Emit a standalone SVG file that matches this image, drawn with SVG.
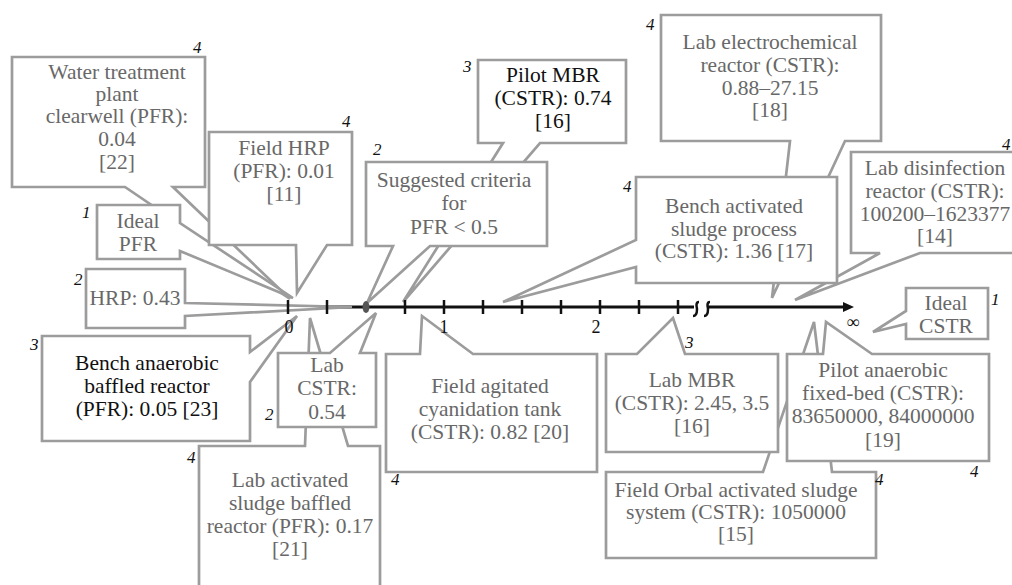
<svg xmlns="http://www.w3.org/2000/svg" width="1012" height="585" viewBox="0 0 1012 585">
<style>
.co{fill:#fff;stroke:#9c9c9c;stroke-width:2.7}
.t{font-family:'Liberation Serif','DejaVu Serif',serif;font-size:21.5px;fill:#686868;text-anchor:middle}
.tb{fill:#111}
.n{font-family:'Liberation Serif','DejaVu Serif',serif;font-style:italic;font-size:17px;fill:#111}
.al{font-family:'Liberation Serif','DejaVu Serif',serif;font-size:18px;fill:#111;text-anchor:middle}
.ax{stroke:#111;stroke-width:3;fill:none}
.tk{stroke:#111;stroke-width:2.5}
</style>
<rect width="1012" height="585" fill="#fff"/>
<g id="axis-line">
<line class="ax" x1="288" y1="307" x2="694" y2="307"/>
<line class="ax" x1="708" y1="307" x2="846" y2="307"/>
</g>
<g id="connectors"></g>
<g id="n-water"><path class="co" d="M12,57 H205 V187 H173 L290,299 L125,187 H12 Z"/>
<text class="t" font-size="20.5"><tspan x="117" y="79">Water treatment</tspan><tspan x="117" y="101">plant</tspan><tspan x="117" y="123">clearwell (PFR):</tspan><tspan x="117" y="146">0.04</tspan><tspan x="117" y="169">[22]</tspan></text>
<text class="n" x="193" y="53">4</text></g>
<g id="n-idealpfr"><path class="co" d="M97,205 H180 V223 L293,298 L180,251 V259 H97 Z"/>
<text class="t"><tspan x="138" y="228">Ideal</tspan><tspan x="138" y="251">PFR</tspan></text>
<text class="n" x="82" y="218">1</text></g>
<g id="n-fieldhrp"><path class="co" d="M209,132 H352 V245 H327 L297,293 L296,245 H209 Z"/>
<text class="t"><tspan x="284" y="155">Field HRP</tspan><tspan x="284" y="178">(PFR): 0.01</tspan><tspan x="284" y="201">[11]</tspan></text>
<text class="n" x="342" y="127">4</text></g>
<g id="n-hrp"><path class="co" d="M86,269 H185 V303 L352,307 L185,316 V328 H86 Z"/>
<text class="t" x="135" y="305">HRP: 0.43</text>
<text class="n" x="74" y="285">2</text></g>
<g id="n-benchanaer"><path class="co" d="M42,336 H250 V352 L297,316 L250,382 V441 H42 Z"/>
<text class="t tb"><tspan x="147" y="370">Bench anaerobic</tspan><tspan x="147" y="393">baffled reactor</tspan><tspan x="147" y="416">(PFR): 0.05 [23]</tspan></text>
<text class="n" x="30" y="350">3</text></g>
<g id="n-labactbaffled"><path class="co" d="M199,446 H305 L310,318 L348,446 H380 V600 H199 Z"/>
<text class="t"><tspan x="290" y="487">Lab activated</tspan><tspan x="290" y="510">sludge baffled</tspan><tspan x="290" y="533">reactor (PFR): 0.17</tspan><tspan x="290" y="556">[21]</tspan></text>
<text class="n" x="187" y="463">4</text></g>
<g id="n-labcstr"><path class="co" d="M278,353 H330 L376,313 L360,353 H376 V427 H278 Z"/>
<text class="t"><tspan x="327" y="372">Lab</tspan><tspan x="327" y="395">CSTR:</tspan><tspan x="327" y="419">0.54</tspan></text>
<text class="n" x="265" y="420">2</text></g>
<g id="n-pilotmbr"><path class="co" d="M478,60 H626 V143 H540 L403,302 L503,143 H478 Z"/>
<text class="t tb"><tspan x="553" y="82">Pilot MBR</tspan><tspan x="553" y="105">(CSTR): 0.74</tspan><tspan x="553" y="128">[16]</tspan></text>
<text class="n" x="463" y="72">3</text></g>
<g id="n-suggested"><path class="co" d="M366,162 H547 V246 H430 L367,303 L393,246 H366 Z"/>
<text class="t"><tspan x="454" y="187">Suggested criteria</tspan><tspan x="454" y="210">for</tspan><tspan x="454" y="234">PFR &lt; 0.5</tspan></text>
<text class="n" x="373" y="155">2</text></g>
<g id="n-labelectro"><path class="co" d="M661,15 H881 V141 H845 L772,298 L790,141 H661 Z"/>
<text class="t"><tspan x="770" y="49">Lab electrochemical</tspan><tspan x="770" y="72">reactor (CSTR):</tspan><tspan x="770" y="95">0.88–27.15</tspan><tspan x="770" y="117">[18]</tspan></text>
<text class="n" x="646" y="30">4</text></g>
<g id="n-labdisinf"><path class="co" d="M851,152 H1020 V253 H920 L795,300 L880,253 H851 Z"/>
<text class="t"><tspan x="935" y="175">Lab disinfection</tspan><tspan x="935" y="198">reactor (CSTR):</tspan><tspan x="935" y="221">100200–1623377</tspan><tspan x="935" y="243">[14]</tspan></text>
<text class="n" x="1002" y="150">4</text></g>
<g id="n-benchact"><path class="co" d="M636,177 H837 V283 H636 V267 L503,302 L636,240 Z"/>
<text class="t"><tspan x="734" y="213">Bench activated</tspan><tspan x="734" y="236">sludge process</tspan><tspan x="734" y="258">(CSTR): 1.36 [17]</tspan></text>
<text class="n" x="623" y="192">4</text></g>
<g id="n-idealcstr"><path class="co" d="M906,288 H988 V339 H906 V324 L873,332 L906,311 Z"/>
<text class="t"><tspan x="946" y="310">Ideal</tspan><tspan x="946" y="333">CSTR</tspan></text>
<text class="n" x="991" y="305">1</text></g>
<g id="n-fieldagit"><path class="co" d="M386,354 H420 L422,316 L473,354 H597 V472 H386 Z"/>
<text class="t"><tspan x="490" y="393">Field agitated</tspan><tspan x="490" y="416">cyanidation tank</tspan><tspan x="490" y="439">(CSTR): 0.82 [20]</tspan></text>
<text class="n" x="391" y="485">4</text></g>
<g id="n-fieldorbal"><path class="co" d="M606,472 H763 L814,322 L832,472 H876 V558 H606 Z"/>
<text class="t"><tspan x="736" y="497">Field Orbal activated sludge</tspan><tspan x="736" y="519">system (CSTR): 1050000</tspan><tspan x="736" y="541">[15]</tspan></text>
<text class="n" x="875" y="485">4</text></g>
<g id="n-labmbr"><path class="co" d="M606,354 H637 L673,318 L685,354 H778 V452 H606 Z"/>
<text class="t"><tspan x="692" y="387">Lab MBR</tspan><tspan x="692" y="410">(CSTR): 2.45, 3.5</tspan><tspan x="692" y="433">[16]</tspan></text>
<text class="n" x="685" y="348">3</text></g>
<g id="n-pilotanaer"><path class="co" d="M787,354 H823 L826,322 L872,354 H989 V461 H787 Z"/>
<text class="t"><tspan x="883" y="377">Pilot anaerobic</tspan><tspan x="883" y="400">fixed-bed (CSTR):</tspan><tspan x="883" y="423">83650000, 84000000</tspan><tspan x="883" y="447">[19]</tspan></text>
<text class="n" x="970" y="477">4</text></g>
<g id="axis-marks">
<line class="tk" x1="288" y1="300" x2="288" y2="314"/>
<line class="tk" x1="327" y1="300" x2="327" y2="314"/>
<ellipse cx="366" cy="307" rx="3.5" ry="6" fill="#555"/>
<line class="tk" x1="405" y1="300" x2="405" y2="314"/>
<line class="tk" x1="444" y1="300" x2="444" y2="314"/>
<line class="tk" x1="483" y1="300" x2="483" y2="314"/>
<line class="tk" x1="522" y1="300" x2="522" y2="314"/>
<line class="tk" x1="561" y1="300" x2="561" y2="314"/>
<line class="tk" x1="600" y1="300" x2="600" y2="314"/>
<line class="tk" x1="639" y1="300" x2="639" y2="314"/>
<line class="tk" x1="678" y1="300" x2="678" y2="314"/>
<path class="tk" fill="none" d="M699,302 C695,302 697,308 697,309 C697,311 697,316 693,316"/>
<path class="tk" fill="none" d="M710,302 C706,302 708,308 708,309 C708,311 708,316 704,316"/>
<polygon points="843,302 854,307 843,312" fill="#111"/>
<text class="al" x="289" y="333">0</text>
<text class="al" x="444" y="333">1</text>
<text class="al" x="596" y="333">2</text>
<text class="al" x="853" y="328">∞</text>
</g>
</svg>
